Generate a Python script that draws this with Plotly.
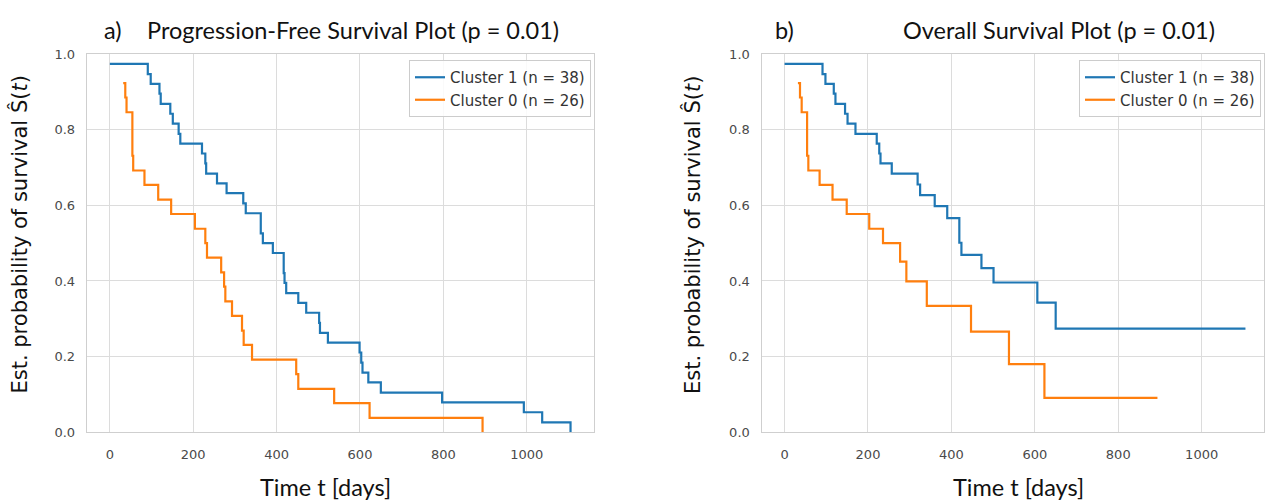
import plotly.graph_objects as go

# ---------------- data ----------------
pfs_c1_t = [0, 91, 98, 119, 122, 145, 151, 165, 169, 221, 229, 231, 257, 280, 320, 326, 362, 367,
            391, 417, 419, 423, 452, 471, 502, 504, 523, 599, 603, 606, 620, 650, 797, 993, 1037, 1105]
pfs_c1_s = [0.974, 0.947, 0.921, 0.895, 0.868, 0.842, 0.816, 0.789, 0.763, 0.737, 0.711, 0.684,
            0.658, 0.632, 0.605, 0.579, 0.526, 0.500, 0.474, 0.421, 0.395, 0.368, 0.342, 0.316,
            0.289, 0.263, 0.237, 0.211, 0.184, 0.158, 0.132, 0.105, 0.079, 0.053, 0.026, 0.0]

pfs_c0_t = [32, 37, 40, 54, 56, 83, 116, 147, 204, 229, 233, 267, 274, 277, 293, 317, 321, 341,
            447, 452, 538, 623, 894]
pfs_c0_s = [0.923, 0.885, 0.846, 0.731, 0.692, 0.654, 0.615, 0.577, 0.538, 0.500, 0.462, 0.423,
            0.385, 0.346, 0.308, 0.269, 0.231, 0.192, 0.154, 0.115, 0.077, 0.038, 0.0]

os_c1_t = [0, 91, 98, 118, 122, 145, 151, 170, 221, 227, 230, 257, 319, 325, 360, 390, 419, 424,
           472, 501, 606, 650, 1105]
os_c1_s = [0.974, 0.947, 0.921, 0.895, 0.868, 0.842, 0.816, 0.789, 0.763, 0.737, 0.711, 0.684,
           0.655, 0.627, 0.598, 0.566, 0.501, 0.469, 0.434, 0.396, 0.343, 0.274, 0.274]

os_c0_t = [32, 37, 41, 54, 57, 84, 115, 149, 203, 236, 277, 292, 341, 447, 538, 623, 894]
os_c0_s = [0.923, 0.885, 0.846, 0.731, 0.692, 0.654, 0.615, 0.577, 0.538, 0.500, 0.451, 0.399,
           0.334, 0.266, 0.180, 0.091, 0.091]

series_names = ["Cluster 1 (n = 38)", "Cluster 0 (n = 26)"]
panel_titles = ["Progression-Free Survival Plot (p = 0.01)", "Overall Survival Plot (p = 0.01)"]
panel_letters = ["a)", "b)"]
x_ticks = [0, 200, 400, 600, 800, 1000]
y_ticks = [0.0, 0.2, 0.4, 0.6, 0.8, 1.0]

BLUE = "#1f77b4"
ORANGE = "#ff7f0e"

# figure fills the whole 1266x500 window (body margin removed in post_script)
W, H = 1266, 500
MT, MB = 20, 20
PLOT_H = H - MT - MB


def px_x(p):
    return p / W


def px_y(p):
    return 1 - (p - MT) / PLOT_H


fig = go.Figure()

panels = [
    ("x", "y", "legend", [(pfs_c1_t, pfs_c1_s, BLUE), (pfs_c0_t, pfs_c0_s, ORANGE)]),
    ("x2", "y2", "legend2", [(os_c1_t, os_c1_s, BLUE), (os_c0_t, os_c0_s, ORANGE)]),
]
for xa, ya, lg, traces in panels:
    for (t, s, c), name in zip(traces, series_names):
        fig.add_trace(go.Scatter(x=t, y=s, mode="lines", line=dict(color=c, width=2.2, shape="hv"),
                                 name=name, xaxis=xa, yaxis=ya, legend=lg))

grid = "#dcdcdc"
axis_common = dict(showgrid=True, gridcolor=grid, gridwidth=1.2, zeroline=False, automargin=False,
                   showline=True, linecolor="#cfcfcf", linewidth=1.2, mirror=True, ticks="",
                   tickfont=dict(family="DejaVu Sans", size=13, color="#4a4a4a"))

legend_common = dict(xanchor="right", yanchor="top", bgcolor="rgba(255,255,255,0.85)",
                     bordercolor="#cccccc", borderwidth=1, itemwidth=30, tracegroupgap=0,
                     font=dict(family="DejaVu Sans", size=15, color="#333333"))

fig.update_layout(
    width=W, height=H, margin=dict(l=0, r=0, t=MT, b=MB),
    plot_bgcolor="white", paper_bgcolor="white",
    xaxis=dict(domain=[px_x(86.8), px_x(594)], range=[-55.3, 1161.3], tickvals=x_ticks,
               anchor="y", ticklabelstandoff=10, **axis_common),
    yaxis=dict(domain=[px_y(432.3), px_y(54)], range=[0, 1], tickvals=y_ticks, tickformat=".1f",
               anchor="x", ticklabelstandoff=8, **axis_common),
    xaxis2=dict(domain=[px_x(761.5), px_x(1263.5)], range=[-55.3, -55.3 + (1263.5 - 761.5) / 0.4171],
                tickvals=x_ticks, anchor="y2", ticklabelstandoff=10, **axis_common),
    yaxis2=dict(domain=[px_y(432.3), px_y(54)], range=[0, 1], tickvals=y_ticks, tickformat=".1f",
                anchor="x2", ticklabelstandoff=8, **axis_common),
    legend=dict(x=px_x(591), y=px_y(60), **legend_common),
    legend2=dict(x=px_x(1261), y=px_y(60), **legend_common),
)

title_font = dict(family="Lato", size=23.5, color="#111111")
ann = []
ann.append(dict(x=px_x(113), y=px_y(30), text=panel_letters[0], font=title_font))
ann.append(dict(x=px_x(353), y=px_y(30), text=panel_titles[0], font=title_font))
ann.append(dict(x=px_x(784), y=px_y(30), text=panel_letters[1], font=title_font))
ann.append(dict(x=px_x(1059), y=px_y(30), text=panel_titles[1], font=title_font))
for cx in (325, 1018):
    ann.append(dict(x=px_x(cx), y=px_y(487), text="Time t [days]", font=title_font))
for cx in (18.5, 692):
    ann.append(dict(x=px_x(cx), y=px_y(235), text="Est. probability of survival Ŝ(<i>t</i>)",
                    textangle=-90, font=dict(family="DejaVu Sans", size=21, color="#111111")))
for a in ann:
    a.update(xref="paper", yref="paper", showarrow=False, xanchor="center", yanchor="middle")
fig.update_layout(annotations=ann)

fig.write_html(
    "out.html",
    config={"displayModeBar": False},
    post_script="document.body.style.margin='0px';"
                "document.documentElement.style.overflow='hidden';",
)
